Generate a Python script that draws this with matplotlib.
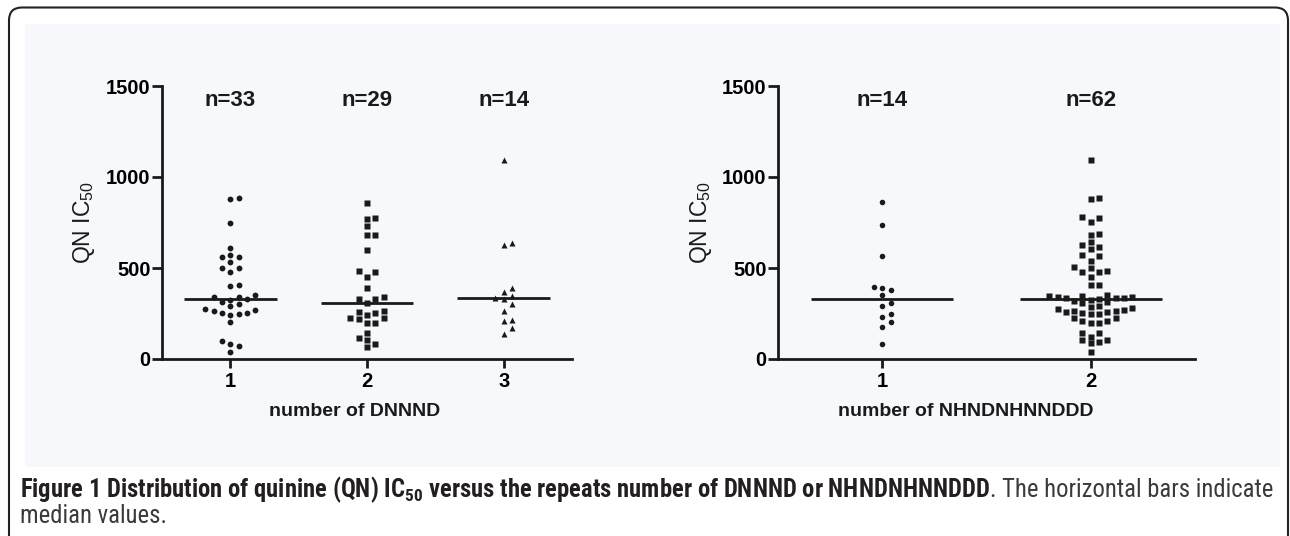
import matplotlib
matplotlib.use('Agg')
import matplotlib.pyplot as plt
import numpy as np
from matplotlib.patches import FancyBboxPatch, Rectangle
from matplotlib.transforms import IdentityTransform
from matplotlib import font_manager as fm

plt.rcParams['font.family'] = ['Liberation Sans', 'DejaVu Sans']
plt.rcParams['mathtext.default'] = 'regular'

# ---------------- data ----------------
dnnnd_categories = ['1', '2', '3']
dnnnd_1 = [880, 885, 747, 612, 571, 560, 562, 533, 502, 500, 478, 405, 401,
           350, 341, 326, 304, 315, 331, 342, 289, 267, 255, 245, 251, 264,
           240, 273, 202, 101, 82, 71, 37]
dnnnd_2 = [857, 769, 776, 733, 680, 683, 599, 485, 476, 451, 392, 331, 309,
           327, 339, 265, 227, 251, 223, 242, 196, 260, 200, 222, 143, 104,
           113, 84, 64]
dnnnd_3 = [1095, 640, 625, 390, 370, 345, 335, 330, 300, 265, 215, 210, 170, 140]

nhn_categories = ['1', '2']
nhn_1 = [860, 739, 565, 388, 379, 395, 349, 307, 289, 230, 245, 205, 174, 84]
nhn_2 = [1092, 883, 879, 778, 751, 773, 687, 681, 645, 617, 628, 602, 573, 566,
         538, 507, 485, 478, 500, 478, 452, 405, 405,
         352, 348, 345, 343, 340, 337, 335, 333, 330, 325, 320, 315, 310,
         290, 272, 265, 256, 250, 248, 252, 258, 268, 285, 280, 262,
         223, 210, 200, 200, 210, 223,
         123, 104, 87, 141, 95, 145, 104, 37]

y_ticks = [0, 500, 1000, 1500]
y_label = 'QN IC$_{50}$'
x_label_left = 'number of DNNND'
x_label_right = 'number of NHNDNHNNDDD'
caption_bold = 'Figure 1 Distribution of quinine (QN) IC$_{50}$ versus the repeats number of DNNND or NHNDNHNNDDD'
caption_regular = '. The horizontal bars indicate'
caption_line2 = 'median values.'

# ---------------- figure ----------------
W, H = 1290, 536
fig = plt.figure(figsize=(W / 100, H / 100), dpi=100)
fig.patch.set_facecolor('white')

INK = '#1a1a1a'

bg = Rectangle((25, H - 467), 1255, 443, transform=IdentityTransform(),
               facecolor='#f6f8fc', edgecolor='none', zorder=-5)
fig.add_artist(bg)
border = FancyBboxPatch((9, -40), 1279, H - 7.5 + 40,
                        boxstyle='round,pad=0,rounding_size=13',
                        transform=IdentityTransform(), fill=False,
                        edgecolor='#222222', linewidth=1.5, zorder=-4)
fig.add_artist(border)


def px_rect(x0, y_top, x1, y_bot):
    return [x0 / W, (H - y_bot) / H, (x1 - x0) / W, (y_bot - y_top) / H]


axL = fig.add_axes(px_rect(162, 86, 572, 359))
axR = fig.add_axes(px_rect(778, 86, 1195, 359))


def style(ax, cats):
    ax.set_facecolor('none')
    ax.set_xlim(0.5, len(cats) + 0.5)
    ax.set_ylim(0, 1500)
    for s in ['top', 'right']:
        ax.spines[s].set_visible(False)
    for s in ['left', 'bottom']:
        ax.spines[s].set_linewidth(2.0)
        ax.spines[s].set_color(INK)
    ax.set_yticks(y_ticks)
    ax.set_xticks(range(1, len(cats) + 1))
    ax.set_xticklabels(cats)
    ax.tick_params(axis='y', length=7.2, width=2, pad=1, labelsize=14.5, color=INK)
    ax.tick_params(axis='x', length=6.5, width=2, pad=3, labelsize=14.5, color=INK)
    for lab in ax.get_xticklabels() + ax.get_yticklabels():
        lab.set_fontweight('bold')


STEP_PX = 8.3
MIN_DY_PX = 6.5


def swarm_x(values, ax, xc):
    tr = ax.transData
    ppu_y = (tr.transform((xc, 1000))[1] - tr.transform((xc, 0))[1]) / 1000.0
    ppu_x = tr.transform((1, 0))[0] - tr.transform((0, 0))[0]
    vals = np.asarray(values, float)
    order = np.argsort(vals, kind='stable')
    slots = {}
    xs = np.zeros(len(vals))
    seq = [0]
    for k in range(1, 30):
        seq += [k, -k]
    for i in order:
        v = vals[i] * ppu_y
        for k in seq:
            if all(abs(v - u) >= MIN_DY_PX for u in slots.get(k, [])):
                slots.setdefault(k, []).append(v)
                xs[i] = xc + k * STEP_PX / ppu_x
                break
    return xs


def draw_panel(ax, cats, groups, xlab, xlab_x, ylab_x):
    style(ax, cats)
    for i, (vals, marker, ms) in enumerate(groups):
        xc = i + 1
        xs = swarm_x(vals, ax, xc)
        ax.plot(xs, vals, ls='none', marker=marker, ms=ms, color=INK,
                mec='none', clip_on=False, zorder=3)
        med = np.median(vals)
        ax.plot([xc - 0.34, xc + 0.34], [med, med], color=INK, lw=2.0,
                solid_capstyle='butt', zorder=4)
        ax.text(xc, 1423, f'n={len(vals)}', ha='center', va='center',
                fontsize=16, fontweight='bold', color=INK)
    ax.text(ylab_x, 0.5, y_label, transform=ax.transAxes, rotation=90,
            ha='center', va='center', fontsize=16.5, color=INK)
    ax.text(xlab_x, -0.209, xlab, transform=ax.transAxes, ha='left',
            va='baseline', fontsize=14, fontweight='bold', color=INK)


draw_panel(axL, dnnnd_categories,
           [(dnnnd_1, 'o', 4.2), (dnnnd_2, 's', 4.5), (dnnnd_3, '^', 4.6)],
           x_label_left, (269 - 162) / 410, -0.190)
draw_panel(axR, nhn_categories,
           [(nhn_1, 'o', 4.0), (nhn_2, 's', 4.5)],
           x_label_right, (838 - 778) / 417, -0.184)

# ---------------- caption ----------------
names = {f.name for f in fm.fontManager.ttflist}
cap_family = next((n for n in ['Liberation Sans Narrow', 'Roboto Condensed',
                               'Open Sans Condensed', 'Roboto']
                   if n in names), 'Liberation Sans')

fs = 13
t1 = fig.text(20, 39, caption_bold, transform=IdentityTransform(),
              fontweight='bold', fontsize=fs, family=cap_family,
              color='#231f20', va='baseline', ha='left')
t2 = fig.text(20, 39, caption_regular, transform=IdentityTransform(),
              fontsize=fs, family=cap_family, color='#3a3a3a',
              va='baseline', ha='left')
t3 = fig.text(20, 13, caption_line2, transform=IdentityTransform(),
              fontsize=fs, family=cap_family, color='#3a3a3a',
              va='baseline', ha='left')
fig.canvas.draw()
r = fig.canvas.get_renderer()
w1 = t1.get_window_extent(r).width
w2 = t2.get_window_extent(r).width
scale = (1268 - 20) / (w1 + w2)
for t in (t1, t2, t3):
    t.set_fontsize(fs * scale)
fig.canvas.draw()
w1 = t1.get_window_extent(r).width
t2.set_position((20 + w1, 39))

fig.savefig('out.png', dpi=100)
